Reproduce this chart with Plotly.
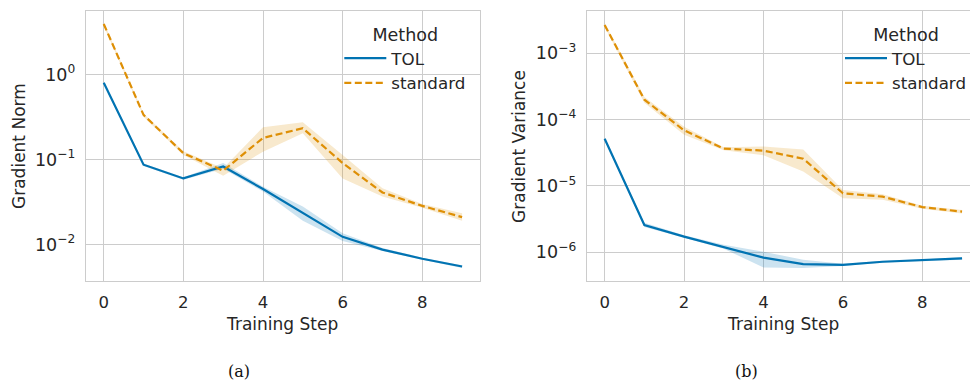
import plotly.graph_objects as go

steps = [0, 1, 2, 3, 4, 5, 6, 7, 8, 9]

norm_tol_mean = [0.805, 0.087, 0.060, 0.083, 0.045, 0.0234, 0.0123, 0.0087, 0.0068, 0.0055]
norm_tol_lo = [0.78, 0.084, 0.058, 0.078, 0.042, 0.019, 0.011, 0.0084, 0.0066, 0.0053]
norm_tol_hi = [0.83, 0.090, 0.062, 0.091, 0.048, 0.028, 0.0136, 0.0091, 0.0070, 0.0057]
norm_std_mean = [3.95, 0.336, 0.119, 0.074, 0.18, 0.234, 0.091, 0.041, 0.0285, 0.021]
norm_std_lo = [3.75, 0.32, 0.113, 0.0645, 0.124, 0.204, 0.060, 0.0367, 0.027, 0.019]
norm_std_hi = [4.15, 0.35, 0.125, 0.079, 0.24, 0.275, 0.113, 0.046, 0.030, 0.0234]

var_tol_mean = [5.16e-5, 2.58e-6, 1.72e-6, 1.21e-6, 8.3e-7, 6.65e-7, 6.45e-7, 7.2e-7, 7.55e-7, 8.1e-7]
var_tol_lo = [4.9e-5, 2.4e-6, 1.65e-6, 1.13e-6, 5.9e-7, 5.8e-7, 6.2e-7, 6.95e-7, 7.3e-7, 7.7e-7]
var_tol_hi = [5.4e-5, 2.8e-6, 1.8e-6, 1.3e-6, 1.02e-6, 7.7e-7, 6.7e-7, 7.45e-7, 7.8e-7, 8.5e-7]
var_std_mean = [2.67e-3, 2.0e-4, 6.9e-5, 3.66e-5, 3.41e-5, 2.58e-5, 7.75e-6, 6.9e-6, 4.8e-6, 4.1e-6]
var_std_lo = [2.5e-3, 1.8e-4, 5.9e-5, 3.45e-5, 2.9e-5, 1.65e-5, 6.5e-6, 6.2e-6, 4.55e-6, 3.85e-6]
var_std_hi = [2.85e-3, 2.2e-4, 7.8e-5, 3.85e-5, 3.95e-5, 3.55e-5, 8.7e-6, 7.5e-6, 5.05e-6, 4.35e-6]

x_tickvals = [0, 2, 4, 6, 8]
norm_tickvals = [1, 0.1, 0.01]
norm_ticktext = ["10<sup>0</sup>", "10<sup>\u22121</sup>", "10<sup>\u22122</sup>"]
var_tickvals = [1e-3, 1e-4, 1e-5, 1e-6]
var_ticktext = ["10<sup>\u22123</sup>", "10<sup>\u22124</sup>", "10<sup>\u22125</sup>", "10<sup>\u22126</sup>"]

methods = ["TOL", "standard"]
colors = {"TOL": "#0173b2", "standard": "#de8f05"}
fills = {"TOL": "rgba(1,115,178,0.2)", "standard": "rgba(222,143,5,0.2)"}
dashes = {"TOL": "solid", "standard": "7px,3.5px"}

W, H = 972, 381
FONT = "DejaVu Sans"
TXT = "#262626"
GRID = "#cccccc"

fig = go.Figure()

panels = [
    ("x", "y", "legend", {"TOL": (norm_tol_mean, norm_tol_lo, norm_tol_hi),
                          "standard": (norm_std_mean, norm_std_lo, norm_std_hi)}),
    ("x2", "y2", "legend2", {"TOL": (var_tol_mean, var_tol_lo, var_tol_hi),
                             "standard": (var_std_mean, var_std_lo, var_std_hi)}),
]

for xa, ya, lg, data in panels:
    for m in methods:
        mean, lo, hi = data[m]
        fig.add_trace(go.Scatter(x=steps, y=hi, mode="lines", line=dict(width=0),
                                 xaxis=xa, yaxis=ya, showlegend=False, hoverinfo="skip"))
        fig.add_trace(go.Scatter(x=steps, y=lo, mode="lines", line=dict(width=0),
                                 fill="tonexty", fillcolor=fills[m],
                                 xaxis=xa, yaxis=ya, showlegend=False, hoverinfo="skip"))
    for m in methods:
        mean, lo, hi = data[m]
        fig.add_trace(go.Scatter(x=steps, y=mean, mode="lines", name=m,
                                 line=dict(color=colors[m], width=2.2, dash=dashes[m]),
                                 xaxis=xa, yaxis=ya, legend=lg))

def px_x(p):
    return p / W

def px_y(p):
    return 1 - p / H

xaxis_common = dict(showgrid=True, gridcolor=GRID, gridwidth=1, zeroline=False,
                    showline=True, linecolor=GRID, linewidth=1.2,
                    tickfont=dict(family=FONT, size=16.5, color=TXT),
                    ticks="outside", ticklen=6, tickcolor="rgba(0,0,0,0)")
yaxis_common = dict(showgrid=True, gridcolor=GRID, gridwidth=1, zeroline=False,
                    showline=True, linecolor=GRID, linewidth=1.2,
                    tickfont=dict(family=FONT, size=17.5, color=TXT),
                    ticks="outside", ticklen=6, tickcolor="rgba(0,0,0,0)")

legend_common = dict(xanchor="left", yanchor="top", traceorder="normal",
                     bgcolor="rgba(0,0,0,0)", itemwidth=42,
                     font=dict(family=FONT, size=16.7, color=TXT),
                     title=dict(text="Method", side="top center",
                                font=dict(family=FONT, size=17.5, color=TXT)))

fig.update_layout(
    width=W, height=H,
    margin=dict(l=0, r=0, t=0, b=0),
    paper_bgcolor="white", plot_bgcolor="white",
    font=dict(family=FONT, size=16, color=TXT),
    xaxis=dict(domain=[px_x(86), px_x(481)], range=[-0.45, 9.45], tickvals=x_tickvals,
               mirror=True, anchor="y", **xaxis_common),
    yaxis=dict(domain=[px_y(281), px_y(11)], type="log", range=[-2.43, 0.75],
               tickvals=norm_tickvals, ticktext=norm_ticktext, mirror=True, anchor="x",
               **yaxis_common),
    xaxis2=dict(domain=[px_x(588), 1.0], range=[-0.45, 9.2], tickvals=x_tickvals,
                mirror=True, anchor="y2", **xaxis_common),
    yaxis2=dict(domain=[px_y(281), px_y(11)], type="log", range=[-6.433, -2.362],
                tickvals=var_tickvals, ticktext=var_ticktext, mirror=False, anchor="x2",
                **yaxis_common),
    legend=dict(x=px_x(340), y=px_y(18), **legend_common),
    legend2=dict(x=px_x(842), y=px_y(18), **legend_common),
)

annots = [
    dict(text="Gradient Norm", x=px_x(19), y=px_y(146), textangle=-90),
    dict(text="Training Step", x=px_x(283), y=px_y(324)),
    dict(text="Gradient Variance", x=px_x(520), y=px_y(146), textangle=-90),
    dict(text="Training Step", x=px_x(785), y=px_y(324)),
]
for a in annots:
    fig.add_annotation(xref="paper", yref="paper", showarrow=False,
                       xanchor="center", yanchor="middle",
                       font=dict(family=FONT, size=17, color=TXT), **a)

for txt, cx in [("(a)", 239), ("(b)", 748)]:
    fig.add_annotation(xref="paper", yref="paper", showarrow=False, text=txt,
                       x=px_x(cx), y=px_y(371), xanchor="center", yanchor="middle",
                       font=dict(family="DejaVu Serif", size=16, color="#111111"))

fig.write_html("out.html")
